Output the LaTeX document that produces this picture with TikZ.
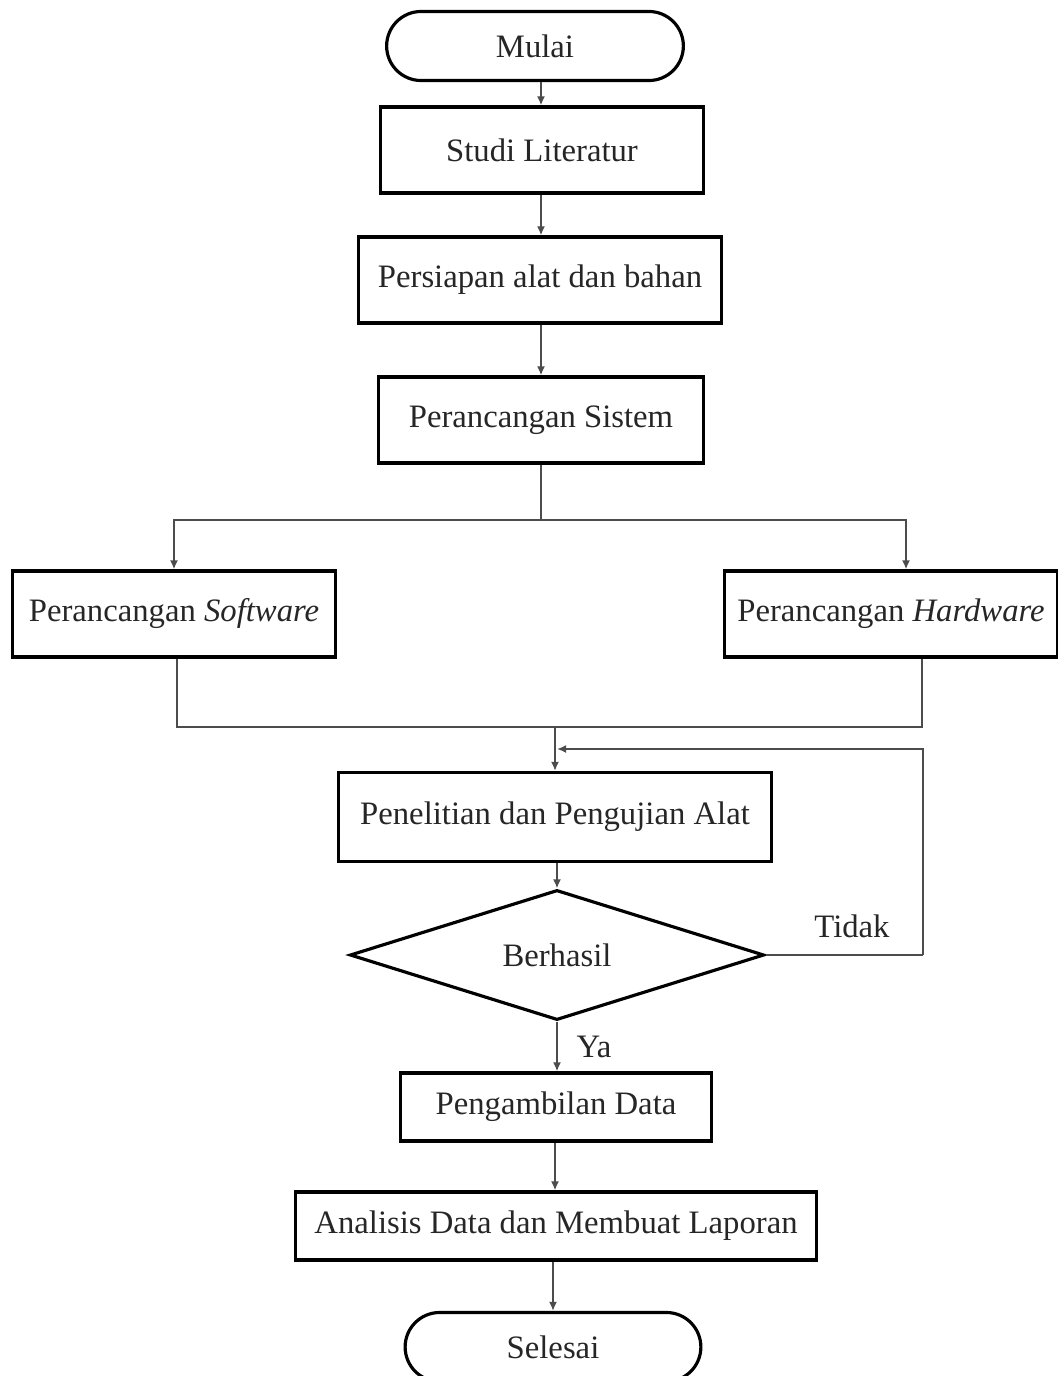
\documentclass[tikz,border=0pt]{standalone}
\usepackage{fontspec}
\setmainfont{Liberation Serif}
\usetikzlibrary{shapes.geometric,shapes.misc,arrows.meta}

\tikzset{
	terminal/.style={draw=black,line width=0.9pt,rounded rectangle,minimum width=3.2cm,minimum height=0.69cm},
	process/.style={draw=black,line width=0.9pt,rectangle,minimum height=0.86cm},
	decision/.style={draw=black,line width=0.9pt,diamond,aspect=3.2,inner sep=0pt,minimum width=4.14cm,minimum height=1.3cm},
	line/.style={draw=black!70,line width=0.6pt},
	arrow/.style={line,-{Latex[length=0.9mm,width=0.8mm]}}
}

\begin{document}
\begin{tikzpicture}[x=0.01cm,y=-0.01cm,font=\fontsize{9.3}{11}\selectfont,text=black!85]
	\useasboundingbox (0,0) rectangle (1057,1376);
	% main column
	\node[terminal] (mulai) at (535,46) {Mulai};
	\node[process,minimum width=3.22cm] (studi) at (542,150) {Studi Literatur};
	\node[process,minimum width=3.63cm] (persiapan) at (540,280) {Persiapan alat dan bahan};
	\node[process,minimum width=3.24cm] (sistem) at (541,420) {Perancangan Sistem};
	\node[process,minimum width=3.22cm] (software) at (174,614) {Perancangan \textit{Software}};
	\node[process,minimum width=3.32cm] (hardware) at (891,614) {Perancangan \textit{Hardware}};
	\node[process,minimum width=4.33cm,minimum height=0.89cm] (penelitian) at (555,817) {Penelitian dan Pengujian Alat};
	\node[decision] (berhasil) at (557,955) {Berhasil};
	\node[process,minimum width=3.10cm,minimum height=0.68cm] (pengambilan) at (556,1107) {Pengambilan Data};
	\node[process,minimum width=5.21cm,minimum height=0.68cm] (analisis) at (556,1226) {Analisis Data dan Membuat Laporan};
	\node[terminal,minimum width=3.19cm] (selesai) at (553,1347) {Selesai};
	% labels
	\node (tidak) at (852,926) {Tidak};
	\node (ya) at (594,1047) {Ya};
	% junctions
	\coordinate (split) at (541,520);
	\coordinate (merge) at (555,727);
	\coordinate (loop) at (557,749);
	\coordinate (corner) at (923,749);
	% connectors
	\draw[arrow] (mulai.south -| 541,0) -- (studi.north -| 541,0);
	\draw[arrow] (studi.south -| 541,0) -- (persiapan.north -| 541,0);
	\draw[arrow] (persiapan.south -| 541,0) -- (sistem.north -| 541,0);
	\draw[line] (sistem.south) -- (split);
	\draw[arrow] (split) -| (software.north);
	\draw[arrow] (split) -| ([xshift=0.15cm]hardware.north);
	\draw[line] ([xshift=0.03cm]software.south) |- (merge) -| ([xshift=0.31cm]hardware.south);
	\draw[arrow] (merge) -- (penelitian.north -| merge);
	\draw[arrow] (corner |- berhasil.east) -- (corner) -- (loop);
	\draw[line] (berhasil.east) -- (corner |- berhasil.east);
	\draw[arrow] (penelitian.south -| berhasil.north) -- (berhasil.north);
	\draw[arrow] (berhasil.south) -- (pengambilan.north -| berhasil.south);
	\draw[arrow] (pengambilan.south -| 555,0) -- (analisis.north -| 555,0);
	\draw[arrow] (analisis.south -| selesai.north) -- (selesai.north);
\end{tikzpicture}
\end{document}
